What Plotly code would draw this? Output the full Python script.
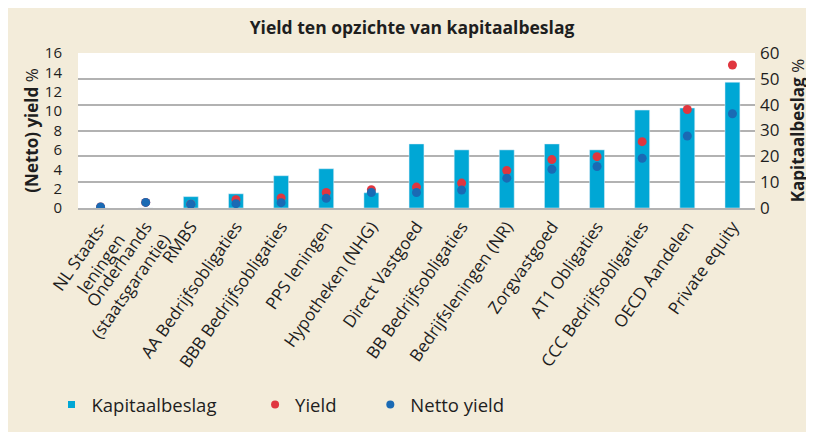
import plotly.graph_objects as go

categories = [
    "NL Staats-<br>leningen", "Onderhands<br>(staatsgarantie)", "RMBS",
    "AA Bedrijfsobligaties", "BBB Bedrijfsobligaties", "PPS leningen",
    "Hypotheken (NHG)", "Direct Vastgoed", "BB Bedrijfsobligaties",
    "Bedrijfsleningen (NR)", "Zorgvastgoed", "AT1 Obligaties",
    "CCC Bedrijfsobligaties", "OECD Aandelen", "Private equity",
]
kapitaalbeslag = [0, 0, 4.4, 5.5, 12.5, 15.2, 5.9, 24.8, 22.5, 22.5, 24.8, 22.5, 37.9, 38.7, 48.7]
yield_pct = [0.1, 0.58, 0.4, 0.86, 1.03, 1.6, 1.88, 2.16, 2.57, 3.87, 5.0, 5.3, 6.85, 10.17, 14.76]
netto_yield = [0.1, 0.58, 0.38, 0.45, 0.55, 1.0, 1.6, 1.6, 1.85, 3.08, 4.0, 4.28, 5.14, 7.43, 9.73]

BAR = "#00A7D5"
RED = "#E0363F"
BLUE = "#1A6AB4"
BG = "#F3ECDA"
TXT = "#1E1E1E"
GRID = "#B2B2B2"
FONT = "Open Sans"

fig = go.Figure()
# bars on right-hand axis (y), dots on left-hand axis (y2, overlaying so drawn on top)
fig.add_trace(go.Bar(x=categories, y=kapitaalbeslag, yaxis="y", marker_color=BAR,
                     width=0.33, showlegend=False, name="Kapitaalbeslag"))
fig.add_trace(go.Scatter(x=categories, y=yield_pct, mode="markers", name="Yield", yaxis="y2",
                         marker=dict(color=RED, size=9), showlegend=False))
fig.add_trace(go.Scatter(x=categories, y=netto_yield, mode="markers", name="Netto yield", yaxis="y2",
                         marker=dict(color=BLUE, size=9), showlegend=False))
# legend entries
fig.add_trace(go.Scatter(x=[None], y=[None], mode="markers", yaxis="y",
                         name="Kapitaalbeslag" + "\u00a0" * 7,
                         marker=dict(color=BAR, size=7, symbol="square")))
fig.add_trace(go.Scatter(x=[None], y=[None], mode="markers", yaxis="y2",
                         name="Yield" + "\u00a0" * 6,
                         marker=dict(color=RED, size=8)))
fig.add_trace(go.Scatter(x=[None], y=[None], mode="markers", yaxis="y2",
                         name="Netto yield",
                         marker=dict(color=BLUE, size=8)))

# page has an 8px body margin: figure coords = screen coords - 8
OFF = 8
W, H = 814 - OFF, 432 - OFF
L, T = 78 - OFF, 53 - OFF
R = W - (755 - OFF)
B = H - (208 - OFF)
pw, ph = W - L - R, H - T - B

def px(xs):
    return (xs - OFF - L) / pw

def py(ys):
    return (H - B - (ys - OFF)) / ph

fig.update_layout(
    width=W, height=H,
    margin=dict(l=L, r=R, t=T, b=B, autoexpand=False),
    paper_bgcolor=BG, plot_bgcolor="white",
    font=dict(family=FONT, color=TXT, size=17),
    title=dict(text="<b>Yield ten opzichte van kapitaalbeslag</b>", x=px(412), xanchor="center",
               xref="paper", y=1 - (28 - OFF) / H, yanchor="middle", font=dict(size=17.5, color=TXT)),
    xaxis=dict(tickangle=-55, showgrid=False, showline=True, linecolor=GRID,
               linewidth=2, ticks="", tickfont=dict(size=17), range=[-0.5, 14.5],
               automargin=False),
    yaxis=dict(range=[0, 60], dtick=10, side="right", showgrid=True,
               gridcolor=GRID, gridwidth=2, zeroline=False, ticks="",
               tickfont=dict(size=17), automargin=False, ticklabelstandoff=4,
               title=dict(text="<b>Kapitaalbeslag</b> %", font=dict(size=17), standoff=13)),
    yaxis2=dict(range=[0, 16], dtick=2, overlaying="y", side="left", showgrid=False,
                zeroline=False, ticks="", tickfont=dict(size=15), automargin=False,
                ticklabelstandoff=15,
                title=dict(text="<b>(Netto) yield</b> %", font=dict(size=17), standoff=1)),
    legend=dict(orientation="h", x=px(51.5), xanchor="left", y=py(405), yanchor="middle",
                bgcolor="rgba(0,0,0,0)", font=dict(size=18.5), itemwidth=30),
)

fig.write_html("out.html")
